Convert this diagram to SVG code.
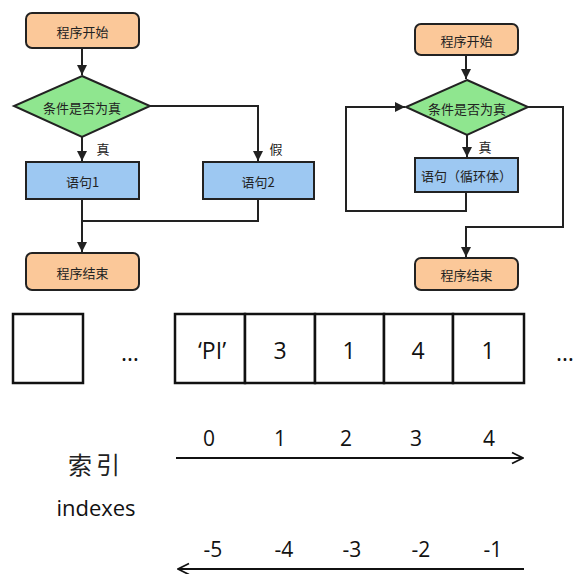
<svg xmlns="http://www.w3.org/2000/svg" width="574" height="574" viewBox="0 0 574 574">
<style>
.term{fill:#FBC899;stroke:#222;stroke-width:2}
.dec{fill:#8FE68F;stroke:#222;stroke-width:2}
.proc{fill:#9DC8F2;stroke:#222;stroke-width:2}
.fc{font-family:"Noto Sans CJK SC","Noto Sans",sans-serif;font-size:13px;fill:#222;text-anchor:middle;dominant-baseline:central}
.lbl{font-family:"Noto Sans CJK SC",sans-serif;font-size:13px;fill:#222;text-anchor:middle;dominant-baseline:central}
.conn{fill:none;stroke:#222;stroke-width:2}
.cell{fill:#fff;stroke:#111;stroke-width:2.5}
.big{font-family:"Open Sans","Liberation Sans",sans-serif;font-size:23px;fill:#111;text-anchor:middle;dominant-baseline:central}
.idx{font-family:"Open Sans","Liberation Sans",sans-serif;font-size:21px;fill:#111;text-anchor:middle}
.axis{fill:none;stroke:#111;stroke-width:2.2}
</style>
<defs>
<marker id="ah" viewBox="0 0 10 10" refX="10" refY="5" markerWidth="5" markerHeight="5" orient="auto" markerUnits="strokeWidth">
<path d="M0,0 L10,5 L0,10 z" fill="#222"/>
</marker>
<marker id="open" viewBox="0 0 12 12" refX="11" refY="6" markerWidth="6" markerHeight="6" orient="auto" markerUnits="strokeWidth">
<path d="M1,1 L11,6 L1,11" fill="none" stroke="#111" stroke-width="1.6"/>
</marker>
</defs>
<rect width="574" height="574" fill="#fff"/>

<g id="connectors">
<path class="conn" d="M82,48 V75" marker-end="url(#ah)"/>
<path class="conn" d="M82,137 V161" marker-end="url(#ah)"/>
<path class="conn" d="M150,106 H258 V161" marker-end="url(#ah)"/>
<path class="conn" d="M258,199 V221 H82"/>
<path class="conn" d="M82,199 V252" marker-end="url(#ah)"/>
<path class="conn" d="M466,55 V79" marker-end="url(#ah)"/>
<path class="conn" d="M467,135 V157" marker-end="url(#ah)"/>
<path class="conn" d="M466,192 V211 H346 V107 H405" marker-end="url(#ah)"/>
<path class="conn" d="M528,107 H563 V227 H466 V257" marker-end="url(#ah)"/>
<text class="lbl" x="103" y="148">真</text>
<text class="lbl" x="276" y="148">假</text>
<text class="lbl" x="485" y="146">真</text>
</g>

<g id="start1"><rect class="term" x="26" y="13" width="113" height="35" rx="6"/><text class="fc" x="82.5" y="31">程序开始</text></g>
<g id="cond1"><polygon class="dec" points="82,76 150,106 82,137 14,106"/><text class="fc" x="82" y="107">条件是否为真</text></g>
<g id="stmt1"><rect class="proc" x="26" y="162" width="113" height="37"/><text class="fc" x="82.5" y="181">语句1</text></g>
<g id="stmt2"><rect class="proc" x="203" y="162" width="111" height="37"/><text class="fc" x="258" y="181">语句2</text></g>
<g id="end1"><rect class="term" x="26" y="253" width="113" height="37" rx="6"/><text class="fc" x="82.5" y="272">程序结束</text></g>

<g id="start2"><rect class="term" x="415" y="24" width="103" height="31" rx="6"/><text class="fc" x="466.5" y="40">程序开始</text></g>
<g id="cond2"><polygon class="dec" points="467,80 528,107 467,135 406,107"/><text class="fc" x="467" y="108">条件是否为真</text></g>
<g id="loopbody"><rect class="proc" x="415" y="158" width="103" height="34"/><text class="fc" x="466.5" y="175">语句（循环体）</text></g>
<g id="end2"><rect class="term" x="415" y="258" width="103" height="32" rx="6"/><text class="fc" x="466.5" y="274">程序结束</text></g>

<g id="array">
<rect class="cell" x="13" y="314" width="70" height="69"/>
<text class="big" x="130" y="352">…</text>
<rect class="cell" x="175" y="314" width="70" height="69"/>
<rect class="cell" x="245" y="314" width="70" height="69"/>
<rect class="cell" x="315" y="314" width="69" height="69"/>
<rect class="cell" x="384" y="314" width="69" height="69"/>
<rect class="cell" x="453" y="314" width="71" height="69"/>
<text class="big" x="212" y="350">‘PI’</text>
<text class="big" x="280" y="350">3</text>
<text class="big" x="349" y="350">1</text>
<text class="big" x="418" y="350">4</text>
<text class="big" x="488" y="350">1</text>
<text class="big" x="565" y="352">…</text>
</g>

<g id="indexes">
<text class="idx" x="209" y="446">0</text>
<text class="idx" x="280" y="446">1</text>
<text class="idx" x="346" y="446">2</text>
<text class="idx" x="416" y="446">3</text>
<text class="idx" x="489" y="446">4</text>
<path class="axis" d="M176,458 H523" marker-end="url(#open)"/>
<text x="96" y="474" font-family="Noto Sans CJK SC,sans-serif" font-size="24" fill="#222" text-anchor="middle" letter-spacing="4">索引</text>
<text x="96" y="516" font-family="Open Sans,Liberation Sans,sans-serif" font-size="22" fill="#111" text-anchor="middle">indexes</text>
<text class="idx" x="213" y="557">-5</text>
<text class="idx" x="284" y="557">-4</text>
<text class="idx" x="352" y="557">-3</text>
<text class="idx" x="421" y="557">-2</text>
<text class="idx" x="493" y="557">-1</text>
<path class="axis" d="M524,569 H178" marker-end="url(#open)"/>
</g>
</svg>
